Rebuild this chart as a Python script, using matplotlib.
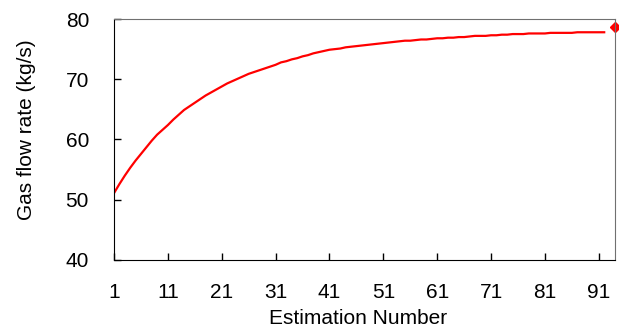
import numpy as np
import matplotlib
matplotlib.use("Agg")
import matplotlib.pyplot as plt

plt.rcParams['font.family'] = ['Liberation Sans', 'DejaVu Sans']

# gas flow rate estimate for each estimation step
estimation = np.arange(1, 93)
flow = [51.1, 52.6, 54.0, 55.3, 56.5, 57.6, 58.7, 59.8, 60.8, 61.6,
        62.4, 63.3, 64.1, 64.9, 65.5, 66.1, 66.7, 67.3, 67.8, 68.3,
        68.8, 69.3, 69.7, 70.1, 70.5, 70.9, 71.2, 71.5, 71.8, 72.1,
        72.4, 72.8, 73.0, 73.3, 73.5, 73.8, 74.0, 74.3, 74.5, 74.7,
        74.9, 75.0, 75.1, 75.3, 75.4, 75.5, 75.6, 75.7, 75.8, 75.9,
        76.0, 76.1, 76.2, 76.3, 76.4, 76.4, 76.5, 76.6, 76.6, 76.7,
        76.8, 76.8, 76.9, 76.9, 77.0, 77.0, 77.1, 77.2, 77.2, 77.2,
        77.3, 77.3, 77.4, 77.4, 77.5, 77.5, 77.5, 77.6, 77.6, 77.6,
        77.6, 77.7, 77.7, 77.7, 77.7, 77.7, 77.8, 77.8, 77.8, 77.8,
        77.8, 77.8]

# actual value (marker on the right edge)
true_x = 94
true_flow = 78.7

xticks = [1, 11, 21, 31, 41, 51, 61, 71, 81, 91]
yticks = [40, 50, 60, 70, 80]

fig = plt.figure(figsize=(6.19, 3.34), dpi=100)
ax = fig.add_axes([0.1842, 0.2216, 0.8093, 0.7215])

ax.plot(estimation, flow, color='red', linewidth=1.6)
ax.plot([true_x], [true_flow], marker='D', color='red', markersize=5, clip_on=False, linestyle='none')

ax.set_xlim(1, 94)
ax.set_ylim(40, 80)
ax.set_xticks(xticks)
ax.set_yticks(yticks)
ax.tick_params(direction='in', length=5, labelsize=15, width=1)
ax.tick_params(axis='x', pad=16.5)
ax.tick_params(axis='y', pad=18)
for s in ['top', 'right']:
    ax.spines[s].set_color('#707070')
for s in ['left', 'bottom']:
    ax.spines[s].set_color('black')

ax.set_xlabel('Estimation Number', fontsize=15)
ax.set_ylabel('Gas flow rate (kg/s)', fontsize=15)
ax.yaxis.set_label_coords(-0.155, 0.539)
ax.xaxis.set_label_coords(0.488, -0.2025)

fig.savefig('out.png', dpi=100)
